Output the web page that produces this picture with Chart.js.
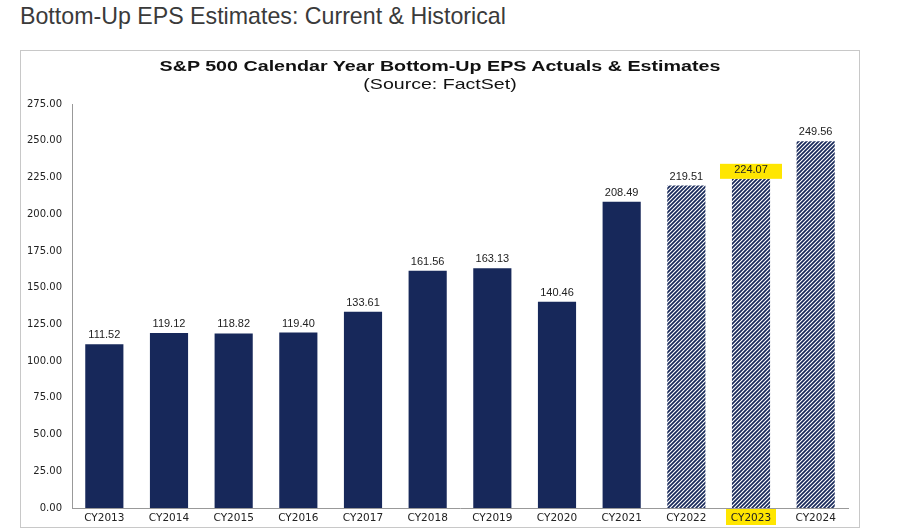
<!DOCTYPE html>
<html><head><meta charset="utf-8">
<script src="https://cdn.jsdelivr.net/npm/chart.js@4.4.0/dist/chart.umd.min.js"></script>
<style>
html,body{margin:0;padding:0;background:#fff;width:900px;height:532px;overflow:hidden;font-family:"Liberation Sans",Arial,sans-serif;}
#pt{position:absolute;left:20px;top:3px;font-size:23.2px;color:#3a3a3a;white-space:nowrap;}
#box{position:absolute;left:20px;top:50px;width:838px;height:476px;border:1px solid #c8c8c8;}
#t1{position:absolute;left:0;width:100%;top:6px;text-align:center;font-weight:bold;font-size:15.5px;color:#111;transform:scaleX(1.27);transform-origin:50% 50%;}
#t2{position:absolute;left:0;width:100%;top:25px;text-align:center;font-size:14.5px;color:#111;transform:scaleX(1.35);transform-origin:50% 50%;}
canvas{position:absolute;left:0;top:0;}
</style></head><body>
<div id="pt">Bottom-Up EPS Estimates: Current &amp; Historical</div>
<div id="box"><canvas id="c" width="838" height="476"></canvas>
<div id="t1">S&amp;P 500 Calendar Year Bottom-Up EPS Actuals &amp; Estimates</div>
<div id="t2">(Source: FactSet)</div></div>
<script>
const categories=["CY2013","CY2014","CY2015","CY2016","CY2017","CY2018","CY2019","CY2020","CY2021","CY2022","CY2023","CY2024"];
const epsValues=[111.52,119.12,118.82,119.40,133.61,161.56,163.13,140.46,208.49,219.51,224.07,249.56];
const isEstimate=[false,false,false,false,false,false,false,false,false,true,true,true];
const highlighted=["CY2023"];
const yTicks=[0,25,50,75,100,125,150,175,200,225,250,275];

const navy="#17285a";
function hatch(){
  const p=document.createElement('canvas');p.width=4;p.height=4;
  const g=p.getContext('2d');g.fillStyle="#fff";g.fillRect(0,0,4,4);
  g.strokeStyle=navy;g.lineWidth=1.7;
  g.beginPath();g.moveTo(0,4);g.lineTo(4,0);g.moveTo(-1,1);g.lineTo(1,-1);g.moveTo(3,5);g.lineTo(5,3);g.stroke();
  return g.createPattern(p,'repeat');
}
const ctx=document.getElementById('c').getContext('2d');
const pat=hatch();
const labelPlugin={id:'lbl',afterDatasetsDraw(chart){
  const c=chart.ctx;const meta=chart.getDatasetMeta(0);
  c.save();c.font="11px 'Liberation Sans',Arial";c.textAlign='center';c.textBaseline='alphabetic';
  meta.data.forEach((b,i)=>{
    const t=epsValues[i].toFixed(2);
    if(highlighted.includes(categories[i])){
      c.fillStyle="#ffe600";c.fillRect(b.x-31,b.y-15,62,15);
    }
    c.fillStyle="#222";c.fillText(t,b.x,b.y-6);
  });
  c.restore();
}, beforeDraw(chart){
  const c=chart.ctx;const xs=chart.scales.x;
  categories.forEach((cat,i)=>{
    if(highlighted.includes(cat)){
      const x=xs.getPixelForValue(i);
      c.save();c.fillStyle="#ffe600";c.fillRect(x-25,chart.chartArea.bottom+1,50,16);c.restore();
    }
  });
}};
new Chart(ctx,{type:'bar',
 data:{labels:categories,datasets:[{data:epsValues,
   backgroundColor:epsValues.map((v,i)=>isEstimate[i]?pat:navy),
   borderWidth:0,categoryPercentage:1,barPercentage:0.59}]},
 options:{responsive:false,animation:false,
  layout:{padding:{top:53,right:11,left:0,bottom:0}},
  plugins:{legend:{display:false},tooltip:{enabled:false}},
  scales:{
   x:{grid:{display:false,drawTicks:false,tickLength:0},border:{color:'#999'},
      ticks:{color:'#222',font:{size:10.5,family:"'DejaVu Sans'"},padding:4},
      afterFit(s){s.height=19;}},
   y:{min:0,max:275,grid:{display:false,drawTicks:false,tickLength:0},border:{color:'#999'},
      afterBuildTicks(s){s.ticks=yTicks.map(v=>({value:v}));},
      ticks:{color:'#222',font:{size:10,family:"'DejaVu Sans'"},padding:10,callback:v=>Number(v).toFixed(2)},
      afterFit(s){s.width=51;}}
  }},
 plugins:[labelPlugin]});
</script></body></html>
